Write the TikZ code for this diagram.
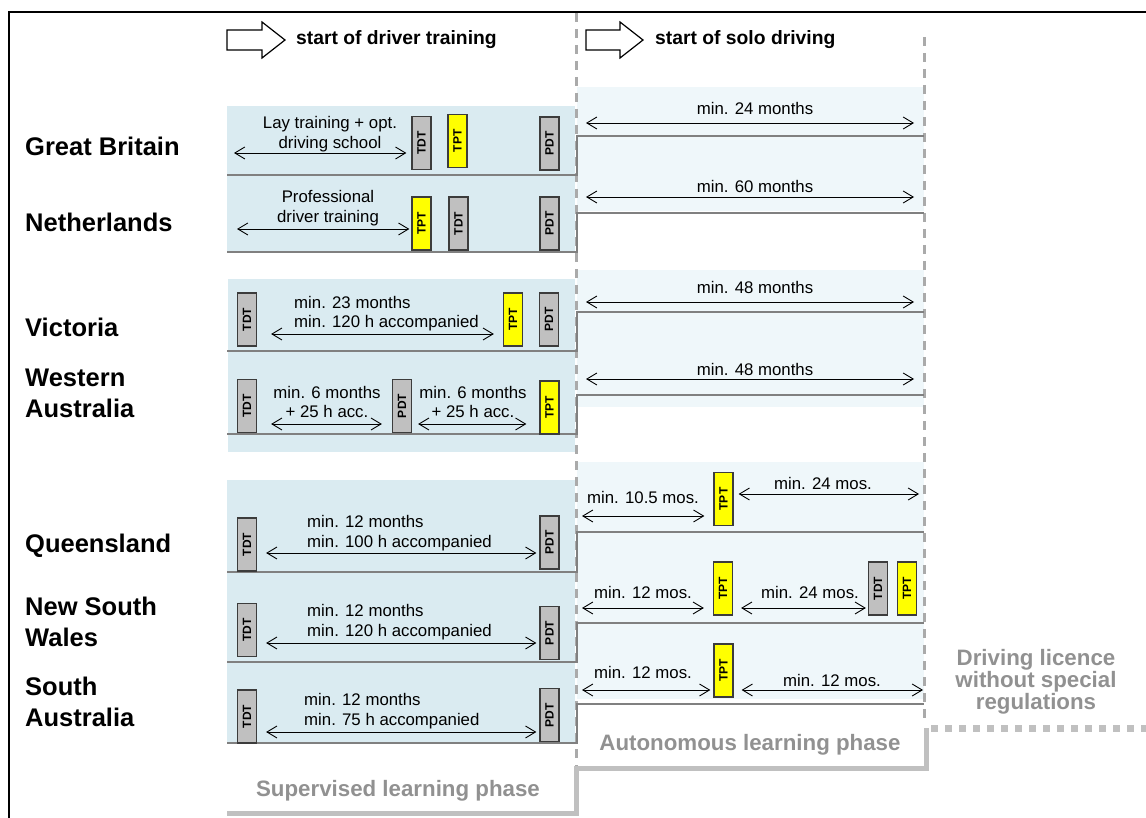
\documentclass[tikz,border=0pt]{standalone}
\usepackage{fontspec}
\setmainfont{Liberation Sans}
\usetikzlibrary{arrows.meta}

\definecolor{supblue}{RGB}{218,235,241}
\definecolor{autblue}{RGB}{239,247,250}
\definecolor{boxgrey}{RGB}{192,192,192}
\definecolor{boxedge}{RGB}{60,60,60}
\definecolor{tyellow}{RGB}{255,255,0}
\definecolor{rowgray}{RGB}{128,128,128}
\definecolor{dashgray}{RGB}{170,170,170}
\definecolor{brackgray}{RGB}{192,192,192}
\definecolor{phasegray}{RGB}{145,145,145}

\begin{document}
\begin{tikzpicture}[x=1pt,y=-1pt,
  supfill/.style={fill=supblue,draw=none},
  autfill/.style={fill=autblue,draw=none},
  tbox/.style={draw=boxedge,line width=1.2pt,minimum width=19pt,minimum height=53pt,inner sep=0pt,
    font=\bfseries\fontsize{12}{12}\selectfont},
  gbox/.style={tbox,fill=boxgrey},
  ybox/.style={tbox,fill=tyellow},
  dim/.style={{Straight Barb[length=10pt,width=12pt]}-{Straight Barb[length=10pt,width=12pt]},line width=0.9pt},
  rowline/.style={draw=rowgray,line width=2.2pt},
  phasedash/.style={draw=dashgray,line width=3pt,dash pattern=on 9pt off 7pt},
  lbl/.style={inner sep=0pt,font=\fontsize{16.8}{19.5}\selectfont},
  country/.style={inner sep=0pt,anchor=west,align=left,font=\bfseries\fontsize{25.5}{31}\selectfont},
  head/.style={inner sep=0pt,anchor=west,font=\bfseries\fontsize{19.3}{22}\selectfont},
  phase/.style={inner sep=0pt,text=phasegray,align=center,font=\bfseries\fontsize{22.3}{22.5}\selectfont},
  blockarrow/.style={draw=black,fill=white,line width=1.2pt,line join=miter}
]
\useasboundingbox (0,0) rectangle (1146,818);

% outer frame (open at right and bottom)
\draw[line width=1.8pt] (9,818) -- (9,12) -- (1146,12);

% background bands: supervised (left) and autonomous (right)
\fill[supfill] (227,106) rectangle (575,252);
\fill[supfill] (228,279) rectangle (575,452);
\fill[supfill] (227,480) rectangle (575,743);
\fill[autfill] (577,87) rectangle (924,211);
\fill[autfill] (577,270) rectangle (924,407);
\fill[autfill] (577,462) rectangle (924,699);

% phase boundaries
\draw[phasedash] (576.5,13) -- (576.5,768);
\draw[phasedash] (924,37) -- (924,724);

% header arrows
\draw[blockarrow] (227,30) -- (262,30) -- (262,22) -- (285,40) -- (262,58) -- (262,50) -- (227,50) -- cycle;
\node[head] (hdrtrain) at (296,40) {start of driver training};
\draw[blockarrow] (586,30) -- (620,30) -- (620,22) -- (643,40) -- (620,58) -- (620,50) -- (586,50) -- cycle;
\node[head] (hdrsolo) at (655,40) {start of solo driving};

% row separators with the step into the autonomous phase
\draw[rowline] (227,175) -- (577,175) -- (577,136) -- (924,136);
\draw[rowline] (227,252) -- (577,252) -- (577,213) -- (924,213);
\draw[rowline] (227,351) -- (577,351) -- (577,312) -- (924,312);
\draw[rowline] (227,434) -- (577,434) -- (577,395) -- (924,395);
\draw[rowline] (227,572) -- (577,572) -- (577,532) -- (924,532);
\draw[rowline] (227,662) -- (577,662) -- (577,623) -- (924,623);
\draw[rowline] (227,743) -- (577,743) -- (577,704) -- (924,704);

% phase brackets
\draw[draw=brackgray,line width=5pt,line join=miter] (227,813) -- (576,813) -- (576,768) -- (926,768) -- (926,728);
\draw[draw=brackgray,line width=7pt,dash pattern=on 7pt off 7pt] (931,728) -- (1146,728);

% country labels
\node[country] (lgb)  at (25,146) {Great Britain};
\node[country] (lnl)  at (25,222) {Netherlands};
\node[country] (lvic) at (25,327) {Victoria};
\node[country] (lwa)  at (25,393) {Western\\Australia};
\node[country] (lqld) at (25,546) {Queensland};
\node[country] (lnsw) at (25,622) {New South\\Wales};
\node[country] (lsa)  at (25,702) {South\\Australia};

% ---- Great Britain
\node[gbox] (gbTDT) at (421.5,143) {\rotatebox{90}{TDT}};
\node[ybox] (gbTPT) at (457.5,141) {\rotatebox{90}{TPT}};
\node[gbox] (gbPDT) at (549.5,143.5) {\rotatebox{90}{PDT}};
\coordinate (gbL) at (234,153);
\draw[dim,shorten >=5pt] (gbL) -- (gbL -| gbTDT.west);
\node[lbl,align=center] (gbtxt) at (330,134) {Lay training + opt.\\driving school};
\coordinate (gbR1) at (586,123);
\coordinate (gbR2) at (914,123);
\draw[dim] (gbR1) -- (gbR2);
\node[lbl] (gbtxt2) at (755,108) {min. 24 months};

% ---- Netherlands
\node[ybox] (nlTPT) at (421.5,223.5) {\rotatebox{90}{TPT}};
\node[gbox] (nlTDT) at (458.5,223.5) {\rotatebox{90}{TDT}};
\node[gbox] (nlPDT) at (549.5,223.5) {\rotatebox{90}{PDT}};
\coordinate (nlL) at (237,229);
\draw[dim,shorten >=2pt] (nlL) -- (nlL -| nlTPT.west);
\node[lbl,align=center] (nltxt) at (328,208) {Professional\\driver training};
\coordinate (nlR1) at (586,197);
\coordinate (nlR2) at (914,197);
\draw[dim] (nlR1) -- (nlR2);
\node[lbl] (nltxt2) at (755,186) {min. 60 months};

% ---- Victoria
\node[gbox] (vicTDT) at (247,319.5) {\rotatebox{90}{TDT}};
\node[ybox] (vicTPT) at (513,319.5) {\rotatebox{90}{TPT}};
\node[gbox] (vicPDT) at (549,319.5) {\rotatebox{90}{PDT}};
\coordinate (vicY) at (0,334);
\draw[dim,shorten <=14pt,shorten >=9pt] (vicTDT.east |- vicY) -- (vicTPT.west |- vicY);
\node[lbl,anchor=west,align=left] (victxt) at (294,313.5) {min. 23 months\\min. 120 h accompanied};
\coordinate (vicR1) at (586,302);
\coordinate (vicR2) at (914,302);
\draw[dim] (vicR1) -- (vicR2);
\node[lbl] (victxt2) at (755,287) {min. 48 months};

% ---- Western Australia
\node[gbox] (waTDT) at (247,406) {\rotatebox{90}{TDT}};
\node[gbox] (waPDT) at (402,406) {\rotatebox{90}{PDT}};
\node[ybox] (waTPT) at (549.5,407.5) {\rotatebox{90}{TPT}};
\coordinate (waY) at (0,424);
\draw[dim,shorten <=14pt,shorten >=10pt] (waTDT.east |- waY) -- (waPDT.west |- waY);
\draw[dim,shorten <=6pt,shorten >=13pt] (waPDT.east |- waY) -- (waTPT.west |- waY);
\node[lbl,align=center] (watxta) at (327,402) {min. 6 months\\+ 25 h acc.};
\node[lbl,align=center] (watxtb) at (473,402) {min. 6 months\\+ 25 h acc.};
\coordinate (waR1) at (586,379);
\coordinate (waR2) at (914,379);
\draw[dim] (waR1) -- (waR2);
\node[lbl] (watxt2) at (755,369) {min. 48 months};

% ---- Queensland
\node[gbox] (qldTDT) at (247,544.5) {\rotatebox{90}{TDT}};
\node[gbox] (qldPDT) at (549.5,542.5) {\rotatebox{90}{PDT}};
\coordinate (qldY) at (0,553);
\draw[dim,shorten <=9pt,shorten >=3pt] (qldTDT.east |- qldY) -- (qldPDT.west |- qldY);
\node[lbl,anchor=west,align=left] (qldtxt) at (307,533) {min. 12 months\\min. 100 h accompanied};
\node[ybox] (qldTPT) at (723.5,499) {\rotatebox{90}{TPT}};
\coordinate (qldR1) at (582,516);
\draw[dim,shorten >=9pt] (qldR1) -- (qldR1 -| qldTPT.west);
\coordinate (qldR2) at (919,494);
\draw[dim,shorten <=5pt] (qldR2 -| qldTPT.east) -- (qldR2);
\node[lbl] (qldtxt2) at (643,497) {min. 10.5 mos.};
\node[lbl] (qldtxt3) at (823,483) {min. 24 mos.};

% ---- New South Wales
\node[gbox] (nswTDT) at (247,630) {\rotatebox{90}{TDT}};
\node[gbox] (nswPDT) at (549.5,633) {\rotatebox{90}{PDT}};
\coordinate (nswY) at (0,643);
\draw[dim,shorten <=9pt,shorten >=3pt] (nswTDT.east |- nswY) -- (nswPDT.west |- nswY);
\node[lbl,anchor=west,align=left] (nswtxt) at (307,622) {min. 12 months\\min. 120 h accompanied};
\node[ybox] (nswTPT) at (723,588.5) {\rotatebox{90}{TPT}};
\node[gbox] (nswTDT2) at (878,588.5) {\rotatebox{90}{TDT}};
\node[ybox] (nswTPT2) at (907,588.5) {\rotatebox{90}{TPT}};
\coordinate (nswR1) at (582,608);
\draw[dim,shorten >=9pt] (nswR1) -- (nswR1 -| nswTPT.west);
\draw[dim,shorten <=8pt,shorten >=2pt] (nswTPT.east |- nswR1) -- (nswTDT2.west |- nswR1);
\node[lbl] (nswtxt2) at (643,592) {min. 12 mos.};
\node[lbl] (nswtxt3) at (810,592) {min. 24 mos.};

% ---- South Australia
\node[gbox] (saTDT) at (247,716.5) {\rotatebox{90}{TDT}};
\node[gbox] (saPDT) at (549.5,715) {\rotatebox{90}{PDT}};
\coordinate (saY) at (0,732);
\draw[dim,shorten <=9pt,shorten >=3pt] (saTDT.east |- saY) -- (saPDT.west |- saY);
\node[lbl,anchor=west,align=left] (satxt) at (304,711) {min. 12 months\\min. 75 h accompanied};
\node[ybox] (saTPT) at (723.5,670.5) {\rotatebox{90}{TPT}};
\coordinate (saR1) at (582,690);
\draw[dim,shorten >=3pt] (saR1) -- (saR1 -| saTPT.west);
\coordinate (saR2) at (923,690);
\draw[dim,shorten <=8pt] (saR2 -| saTPT.east) -- (saR2);
\node[lbl] (satxt2) at (643,672) {min. 12 mos.};
\node[lbl] (satxt3) at (832,680) {min. 12 mos.};

% phase labels
\node[phase] (supphase) at (398,791) {Supervised learning phase};
\node[phase] (autphase) at (750,745) {Autonomous learning phase};
\node[phase,font=\bfseries\fontsize{22.3}{22}\selectfont] (freephase) at (1036,682) {Driving licence\\without special\\regulations};
\end{tikzpicture}
\end{document}
